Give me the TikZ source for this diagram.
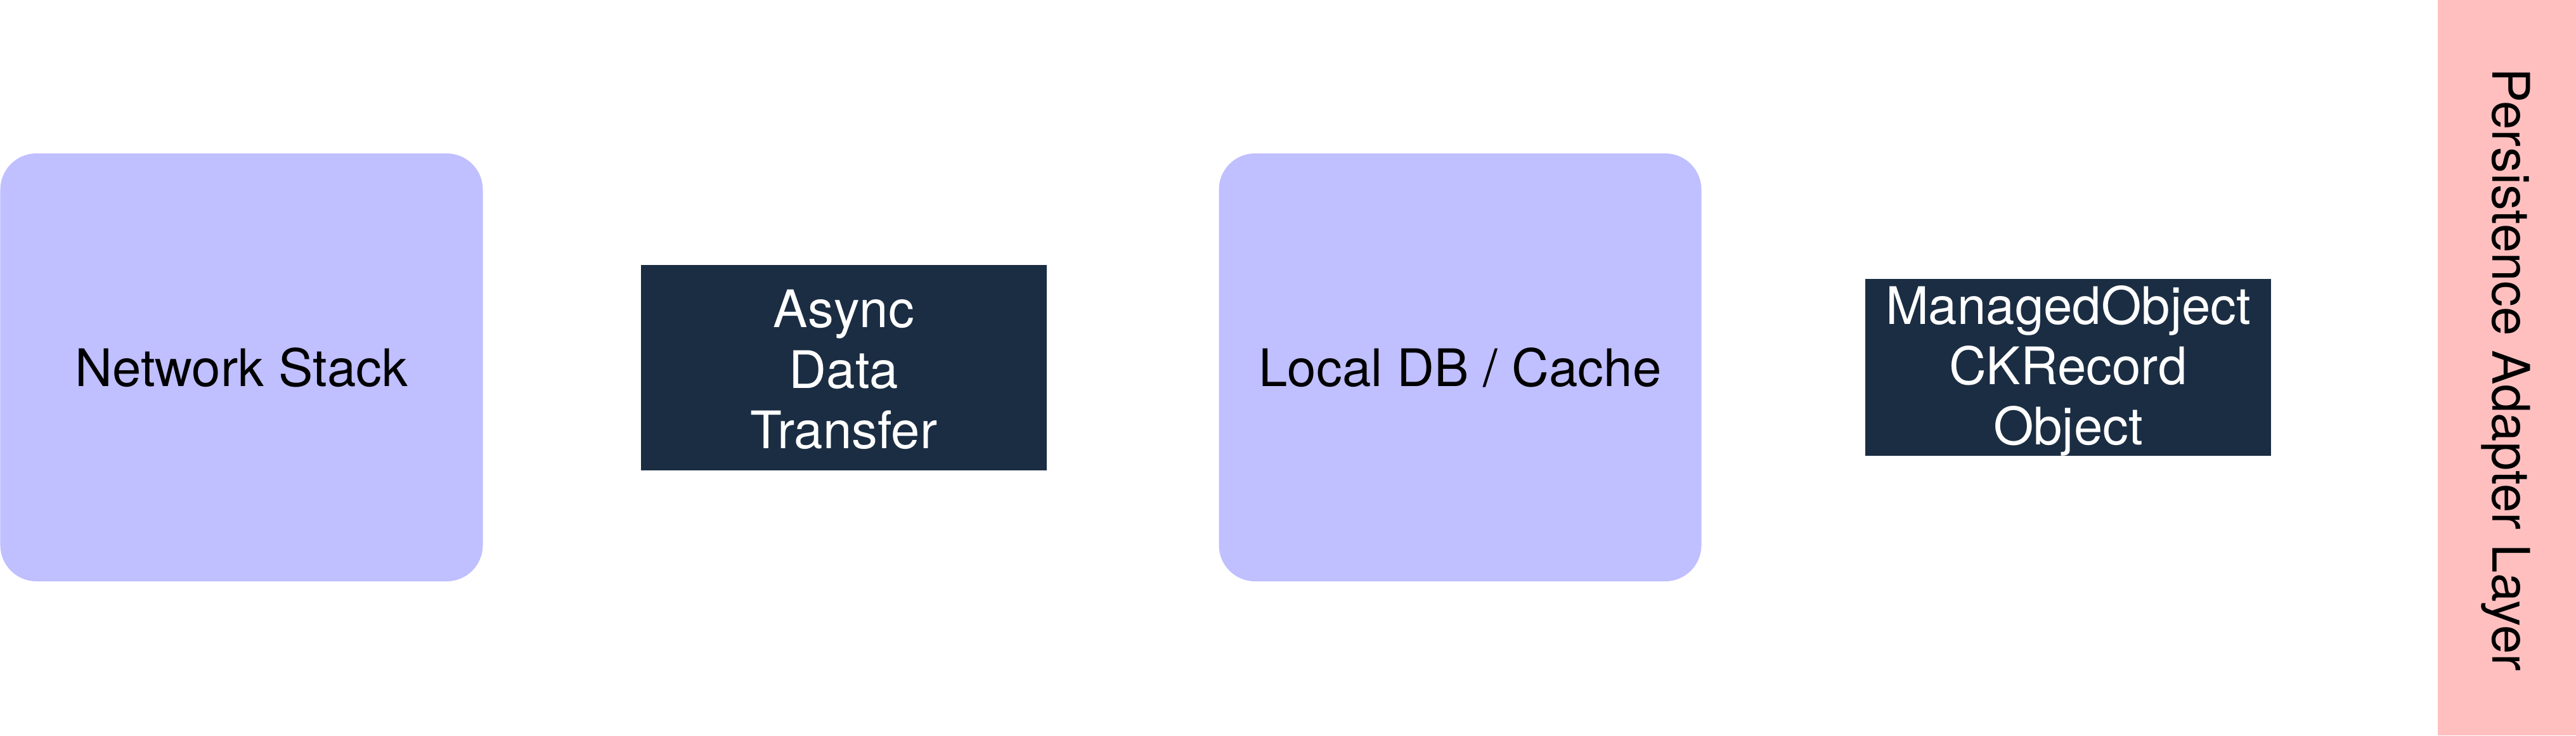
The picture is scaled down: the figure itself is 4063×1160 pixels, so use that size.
\documentclass[tikz,border=0pt]{standalone}
\usepackage{fontspec}
\setmainfont{TeX Gyre Heros}
\definecolor{lav}{HTML}{C0BFFF}
\definecolor{navy}{HTML}{1B2D42}
\definecolor{pinkbar}{HTML}{FFBFBF}
\begin{document}
\begin{tikzpicture}[x=0.25pt,y=-0.25pt,
  every node/.style={inner sep=0pt,outer sep=0pt,font=\fontsize{20.4pt}{23.8pt}\selectfont,align=center},
  bigbox/.style={fill=lav,rounded corners=14.25pt,minimum width=190.25pt,minimum height=168.75pt,text=black},
  darkbox/.style={fill=navy,minimum width=160pt,text=white},
  layerbar/.style={fill=pinkbar,minimum width=54.5pt,minimum height=290pt}]
\useasboundingbox (0,0) rectangle (4063,1160);
\fill[white] (0,0) rectangle (4063,1160);
\node[bigbox] (net) at (381,579.5) {Network Stack};
\node[darkbox,minimum height=81pt] (async) at (1331,580) {};
\node[text=white] (asynctext) at (1331,583) {Async\\Data\\Transfer};
\node[bigbox] (db) at (2303,579.5) {Local DB / Cache};
\node[darkbox,minimum height=69.75pt] (mo) at (3262,579) {};
\node[text=white] (motext) at (3262,585) {ManagedObject\\CKRecord\\Object};
\node[layerbar] (bar) at (3954,580) {};
\node[rotate=-90] (barlabel) at (3952,583) {Persistence Adapter Layer};
\end{tikzpicture}
\end{document}
